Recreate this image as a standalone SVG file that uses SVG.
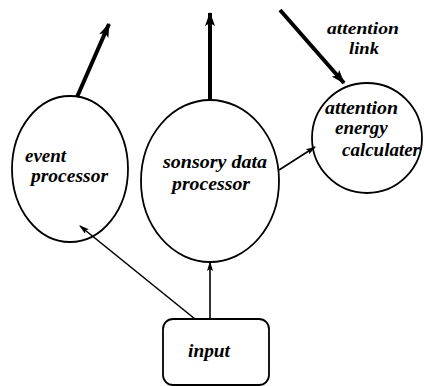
<svg xmlns="http://www.w3.org/2000/svg" width="424" height="386" viewBox="0 0 424 386">
<style>
.node{fill:#fff;stroke:#000;stroke-width:1.8}
.lbl{font-family:"Liberation Serif","DejaVu Serif",serif;font-style:italic;font-weight:bold;font-size:19px;fill:#000}
.small{font-size:17px}
.thick{stroke:#000;stroke-width:4;fill:none}
.thin{stroke:#000;stroke-width:1.6;fill:none}
</style>
<defs>
<marker id="big" viewBox="0 0 14 10" refX="13" refY="5" markerWidth="14" markerHeight="10" markerUnits="userSpaceOnUse" orient="auto">
<path d="M0,0 L14,5 L0,10 L3,5 Z" fill="#000"/>
</marker>
<marker id="small" viewBox="0 0 10 6" refX="9" refY="3" markerWidth="10" markerHeight="6" markerUnits="userSpaceOnUse" orient="auto">
<path d="M0,0 L10,3 L0,6 L2,3 Z" fill="#000"/>
</marker>
</defs>
<rect width="424" height="386" fill="#fff"/>
<g id="event-processor">
<ellipse class="node" cx="70" cy="169" rx="58" ry="73"/>
<text class="lbl" x="25" y="162">event</text>
<text class="lbl" x="31" y="182" textLength="77" lengthAdjust="spacingAndGlyphs">processor</text>
</g>
<g id="sonsory-data-processor">
<ellipse class="node" cx="210" cy="181" rx="69" ry="81"/>
<text class="lbl" x="163" y="168" textLength="104" lengthAdjust="spacingAndGlyphs">sonsory data</text>
<text class="lbl" x="172" y="190" textLength="78" lengthAdjust="spacingAndGlyphs">processor</text>
</g>
<g id="attention-energy-calculater">
<circle class="node" cx="367" cy="138" r="55"/>
<text class="lbl" x="325" y="114" textLength="73" lengthAdjust="spacingAndGlyphs">attention</text>
<text class="lbl" x="335" y="134">energy</text>
<text class="lbl" x="342" y="156" textLength="78" lengthAdjust="spacingAndGlyphs">calculater</text>
</g>
<g id="attention-link-label">
<text class="lbl small" x="327" y="34" textLength="72" lengthAdjust="spacingAndGlyphs">attention</text>
<text class="lbl small" x="349" y="54" textLength="30" lengthAdjust="spacingAndGlyphs">link</text>
</g>
<g id="input">
<rect class="node" x="163" y="319" width="106" height="66" rx="10"/>
<text class="lbl" x="188" y="357" textLength="42" lengthAdjust="spacingAndGlyphs">input</text>
</g>
<g id="connectors">
<line class="thick" x1="77" y1="97" x2="109" y2="24" marker-end="url(#big)"/>
<line class="thick" x1="210" y1="100" x2="210" y2="13" marker-end="url(#big)"/>
<line class="thick" x1="280" y1="10" x2="344" y2="83" marker-end="url(#big)"/>
<line class="thin" x1="279" y1="170" x2="315" y2="147" marker-end="url(#small)"/>
<line class="thin" x1="210" y1="319" x2="210" y2="262" marker-end="url(#small)"/>
<line class="thin" x1="195" y1="319" x2="80" y2="226" marker-end="url(#small)"/>
</g>
</svg>
